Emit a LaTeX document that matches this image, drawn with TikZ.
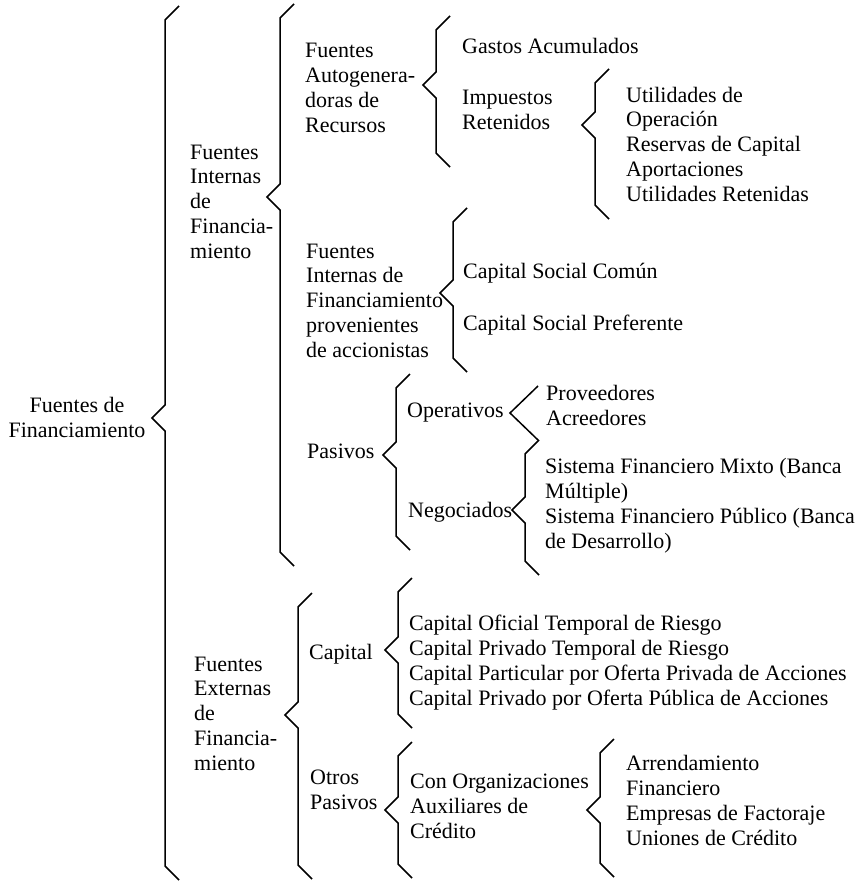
\documentclass[tikz,border=0pt]{standalone}
\usepackage{fontspec}
\setmainfont{Liberation Serif}
\usetikzlibrary{positioning}
\tikzset{texto/.style = {anchor=base west, align=left, inner sep=0pt,
                         font=\fontsize{22}{24.7}\selectfont},
         trazo/.style = {line width=1.5pt, line join=miter}}
% llave: x, arriba, punta, abajo
\newcommand{\llave}[4]{%
  \draw [trazo] ({#1+14},#2) -- (#1,{#2+14}) -- (#1,{#3-13}) -- ({#1-13},#3)
                -- (#1,{#3+13}) -- (#1,{#4-14}) -- ({#1+14},#4);}

\begin{document}
\begin{tikzpicture}[x=1pt, y=-1pt]
  \useasboundingbox (0,0) rectangle (864,881);

  % (las coordenadas de los textos son la linea base de la ultima linea)
  \node [texto, align=center, anchor=base] (raiz) at (77,437) {Fuentes de\\Financiamiento};
  \llave{165}{6}{418}{880}

  \node [texto] (internas) at (190,258) {Fuentes\\Internas\\de\\Financia-\\miento};
  \llave{280}{4}{197}{566}

  \node [texto] (autogen) at (305,132) {Fuentes\\Autogenera-\\doras de\\Recursos};
  \llave{436}{16}{85}{167}
  \node [texto] (gastos) at (462,53) {Gastos Acumulados};
  \node [texto] (impuestos) at (462,129) {Impuestos\\Retenidos};
  \llave{595}{69}{125}{219}
  \node [texto] (utilidades) at (626,201) {Utilidades de\\Operación\\Reservas de Capital\\Aportaciones\\Utilidades Retenidas};

  \node [texto] (accionistas) at (306,357) {Fuentes\\Internas de\\Financiamiento\\provenientes\\de accionistas};
  \llave{453}{208}{293}{372}
  \node [texto] (comun) at (463,278) {Capital Social Común};
  \node [texto] (preferente) at (463,330) {Capital Social Preferente};

  \node [texto] (pasivos) at (307,458) {Pasivos};
  \llave{396}{374}{455}{550}
  \node [texto] (operativos) at (407,417) {Operativos};
  \draw [trazo] (538,386) -- (510,413) -- (538,440);
  \node [texto] (proveedores) at (546,425) {Proveedores\\Acreedores};
  \node [texto] (negociados) at (408,517) {Negociados};
  \llave{525}{440}{510}{575}
  \node [texto] (sistema) at (545,548) {Sistema Financiero Mixto (Banca\\Múltiple)\\Sistema Financiero Público (Banca\\de Desarrollo)};

  \node [texto] (externas) at (194,770) {Fuentes\\Externas\\de\\Financia-\\miento};
  \llave{298}{593}{715}{879}
  \node [texto] (capital) at (309,659) {Capital};
  \llave{398}{578}{650}{728}
  \node [texto] (capitales) at (409,705) {Capital Oficial Temporal de Riesgo\\Capital Privado Temporal de Riesgo\\Capital Particular por Oferta Privada de Acciones\\Capital Privado por Oferta Pública de Acciones};
  \node [texto] (otros) at (310,809) {Otros\\Pasivos};
  \llave{398}{742}{810}{878}
  \node [texto] (organizaciones) at (410,838) {Con Organizaciones\\Auxiliares de\\Crédito};
  \llave{600}{739}{810}{877}
  \node [texto] (arrendamiento) at (626,845) {Arrendamiento\\Financiero\\Empresas de Factoraje\\Uniones de Crédito};
\end{tikzpicture}
\end{document}
